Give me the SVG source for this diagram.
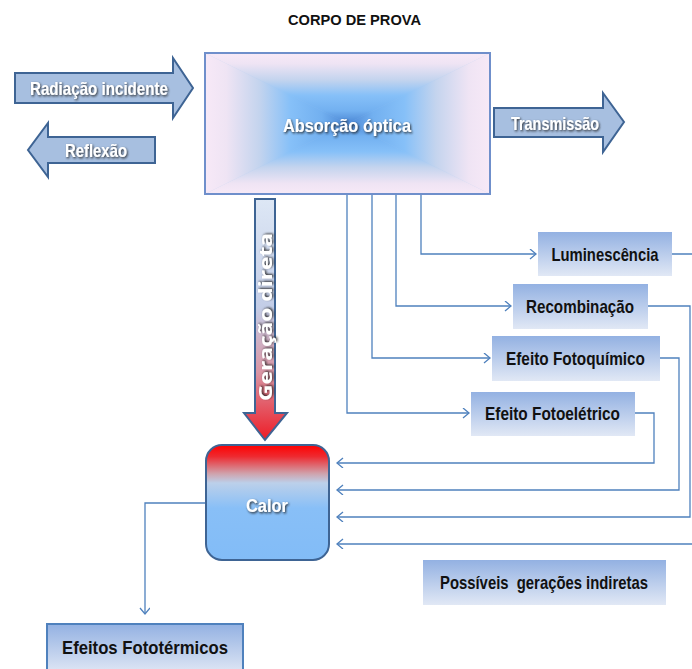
<svg xmlns="http://www.w3.org/2000/svg" width="692" height="669" viewBox="0 0 692 669">
<style>
.lbl{font-family:"Liberation Sans",Arial,sans-serif;font-weight:bold;font-size:19px;text-anchor:middle;fill:#111;white-space:pre}
.wlbl{font-family:"Liberation Sans",Arial,sans-serif;font-weight:bold;font-size:19px;text-anchor:middle;fill:#fff;filter:url(#sh)}
.conn{fill:none;stroke:#4f81bd;stroke-width:1.3}
.arr{fill:#a7bfe0;stroke:#3e6494;stroke-width:2;stroke-linejoin:miter}
.box{fill:url(#boxg)}
</style>
<defs>
<filter id="sh" x="-10%" y="-30%" width="120%" height="160%">
<feDropShadow dx="1" dy="1.3" stdDeviation="0.9" flood-color="#1a1a1a" flood-opacity="0.9"/>
</filter>
<linearGradient id="boxg" x1="0" y1="0" x2="0" y2="1">
<stop offset="0" stop-color="#93b1e2"/>
<stop offset="1" stop-color="#e1e8f5"/>
</linearGradient>
<linearGradient id="gT" gradientUnits="userSpaceOnUse" x1="0" y1="53" x2="0" y2="123.5">
<stop offset="0" stop-color="#f7e9f7"/><stop offset="0.15" stop-color="#efe4f4"/><stop offset="0.38" stop-color="#c4d4ee"/><stop offset="0.6" stop-color="#86c0f8"/><stop offset="0.82" stop-color="#72b0f0"/><stop offset="1" stop-color="#4a86d4"/>
</linearGradient>
<linearGradient id="gB" gradientUnits="userSpaceOnUse" x1="0" y1="194" x2="0" y2="123.5">
<stop offset="0" stop-color="#f7e9f7"/><stop offset="0.15" stop-color="#efe4f4"/><stop offset="0.38" stop-color="#c4d4ee"/><stop offset="0.6" stop-color="#86c0f8"/><stop offset="0.82" stop-color="#72b0f0"/><stop offset="1" stop-color="#4a86d4"/>
</linearGradient>
<linearGradient id="gL" gradientUnits="userSpaceOnUse" x1="205" y1="0" x2="347.5" y2="0">
<stop offset="0" stop-color="#f7e9f7"/><stop offset="0.15" stop-color="#efe4f4"/><stop offset="0.38" stop-color="#c4d4ee"/><stop offset="0.6" stop-color="#86c0f8"/><stop offset="0.82" stop-color="#72b0f0"/><stop offset="1" stop-color="#4a86d4"/>
</linearGradient>
<linearGradient id="gR" gradientUnits="userSpaceOnUse" x1="490" y1="0" x2="347.5" y2="0">
<stop offset="0" stop-color="#f7e9f7"/><stop offset="0.15" stop-color="#efe4f4"/><stop offset="0.38" stop-color="#c4d4ee"/><stop offset="0.6" stop-color="#86c0f8"/><stop offset="0.82" stop-color="#72b0f0"/><stop offset="1" stop-color="#4a86d4"/>
</linearGradient>
<linearGradient id="calg" x1="0" y1="0" x2="0" y2="1">
<stop offset="0" stop-color="#ff0000"/>
<stop offset="0.1" stop-color="#ee2a30"/>
<stop offset="0.25" stop-color="#cfa3ad"/>
<stop offset="0.33" stop-color="#bcd0ea"/>
<stop offset="0.55" stop-color="#88bff7"/>
<stop offset="1" stop-color="#82bcf7"/>
</linearGradient>
<linearGradient id="gerg" x1="0" y1="0" x2="0" y2="1">
<stop offset="0" stop-color="#dde7f5"/>
<stop offset="0.45" stop-color="#c3cde7"/>
<stop offset="0.72" stop-color="#d995a4"/>
<stop offset="1" stop-color="#ee1c26"/>
</linearGradient>
<marker id="chev" markerUnits="userSpaceOnUse" markerWidth="10" markerHeight="12" refX="7" refY="5" orient="auto">
<path d="M1,0 L7,5 L1,10" fill="none" stroke="#4f81bd" stroke-width="1.3"/>
</marker>
</defs>

<text x="354.5" y="25" class="lbl" style="font-size:15px" textLength="133" lengthAdjust="spacingAndGlyphs">CORPO DE PROVA</text>

<g id="connectors">
<path class="conn" d="M421,195 V254 H536" marker-end="url(#chev)"/>
<path class="conn" d="M396,195 V306 H511" marker-end="url(#chev)"/>
<path class="conn" d="M372,195 V358 H490" marker-end="url(#chev)"/>
<path class="conn" d="M347,195 V413 H469" marker-end="url(#chev)"/>
<path class="conn" d="M635,413 H654 V463 H337" marker-end="url(#chev)"/>
<path class="conn" d="M660,358 H679 V490 H337" marker-end="url(#chev)"/>
<path class="conn" d="M648,306 H690 V517 H337" marker-end="url(#chev)"/>
<path class="conn" d="M672,254 H697 V544 H337" marker-end="url(#chev)"/>
<path class="conn" d="M206,503 H145 V614" marker-end="url(#chev)"/>
</g>

<g id="absorcao">
<rect x="205" y="53" width="285" height="141" fill="#9cc6f2"/>
<polygon points="205,53 490,53 347.5,123.5" fill="url(#gT)" stroke="url(#gT)" stroke-width="0.4"/>
<polygon points="205,194 490,194 347.5,123.5" fill="url(#gB)" stroke="url(#gB)" stroke-width="0.4"/>
<polygon points="205,53 205,194 347.5,123.5" fill="url(#gL)" stroke="url(#gL)" stroke-width="0.4"/>
<polygon points="490,53 490,194 347.5,123.5" fill="url(#gR)" stroke="url(#gR)" stroke-width="0.4"/>
<rect x="205" y="53" width="285" height="141" fill="none" stroke="#6f8fcb" stroke-width="2"/>
<text x="347" y="132" class="wlbl" textLength="128" lengthAdjust="spacingAndGlyphs">Absorção óptica</text>
</g>

<g id="radiacao">
<path class="arr" d="M15,73 H173 V58 L193,88 L173,118 V103 H15 Z"/>
<text x="99" y="95" class="wlbl" textLength="138" lengthAdjust="spacingAndGlyphs">Radiação incidente</text>
</g>

<g id="reflexao">
<path class="arr" d="M155,137 H48 V123 L28,150 L48,177 V163 H155 Z"/>
<text x="96" y="157" class="wlbl" textLength="62" lengthAdjust="spacingAndGlyphs">Reflexão</text>
</g>

<g id="transmissao">
<path class="arr" d="M494,108 H603 V93 L624,122 L603,152 V137 H494 Z"/>
<text x="555" y="130" class="wlbl" textLength="88" lengthAdjust="spacingAndGlyphs">Transmissão</text>
</g>

<g id="geracao-direta">
<path d="M255,199 H275 V413 H287 L265,440 L244,413 H255 Z" fill="url(#gerg)" stroke="#3e6494" stroke-width="2"/>
<text transform="translate(272,317) rotate(-90)" x="0" y="0" class="wlbl" style="font-family:'Open Sans','Liberation Sans',sans-serif;font-size:18px" textLength="168" lengthAdjust="spacingAndGlyphs">Geração direta</text>
</g>

<g id="luminescencia">
<rect class="box" x="538" y="232" width="134" height="44"/>
<text x="605" y="261" class="lbl" textLength="107" lengthAdjust="spacingAndGlyphs">Luminescência</text>
</g>

<g id="recombinacao">
<rect class="box" x="513" y="284" width="135" height="45"/>
<text x="580" y="313" class="lbl" textLength="108" lengthAdjust="spacingAndGlyphs">Recombinação</text>
</g>

<g id="fotoquimico">
<rect class="box" x="492" y="336" width="168" height="45"/>
<text x="575.5" y="365" class="lbl" textLength="139" lengthAdjust="spacingAndGlyphs">Efeito Fotoquímico</text>
</g>

<g id="fotoeletrico">
<rect class="box" x="471" y="392" width="164" height="44"/>
<text x="552.5" y="420" class="lbl" textLength="135" lengthAdjust="spacingAndGlyphs">Efeito Fotoelétrico</text>
</g>

<g id="calor">
<rect x="206" y="445" width="123" height="115" rx="16" ry="16" fill="url(#calg)" stroke="#3e6494" stroke-width="2"/>
<text x="267" y="512" class="wlbl" textLength="42" lengthAdjust="spacingAndGlyphs">Calor</text>
</g>

<g id="possiveis">
<rect class="box" x="423" y="560" width="243" height="45"/>
<text x="544" y="589" class="lbl" textLength="208" lengthAdjust="spacingAndGlyphs">Possíveis  gerações indiretas</text>
</g>

<g id="fototermicos">
<rect class="box" x="47" y="624" width="196" height="50" stroke="#4f81bd" stroke-width="2"/>
<text x="145" y="654" class="lbl" textLength="166" lengthAdjust="spacingAndGlyphs">Efeitos Fototérmicos</text>
</g>
</svg>
